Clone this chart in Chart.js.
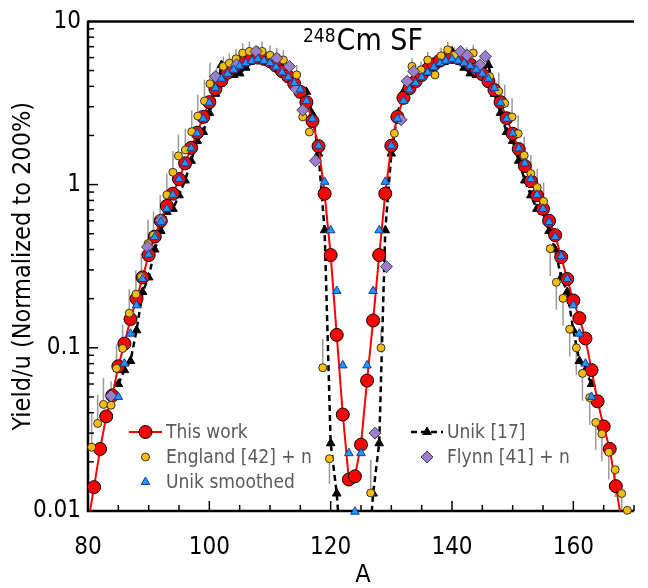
<!DOCTYPE html>
<html>
<head>
<meta charset="utf-8">
<script src="https://cdn.jsdelivr.net/npm/chart.js@4.4.0/dist/chart.umd.min.js"></script>
<style>
  html, body { margin: 0; padding: 0; background: #fff; overflow: hidden; }
  #wrap { width: 656px; height: 588px; }
</style>
</head>
<body>
<div id="wrap"><canvas id="myChart" width="656" height="588"></canvas></div>
<script>
// This work
var thisWorkA = [80, 81, 82, 83, 84, 85, 86, 87, 88, 89, 90, 91, 92, 93, 94, 95, 96, 97, 98, 99,
  100, 101, 102, 103, 104, 105, 106, 107, 108, 109, 110, 111, 112, 113, 114, 115, 116, 117, 118, 119,
  120, 121, 122, 123, 124, 125, 126, 127, 128, 129, 130, 131, 132, 133, 134, 135, 136, 137, 138, 139,
  140, 141, 142, 143, 144, 145, 146, 147, 148, 149, 150, 151, 152, 153, 154, 155, 156, 157, 158, 159,
  160, 161, 162, 163, 164, 165, 166, 167, 168];
var thisWorkY = [0.0085, 0.014, 0.024, 0.038, 0.051, 0.077, 0.106, 0.15, 0.20, 0.27, 0.37, 0.48, 0.60, 0.74, 0.88, 1.08, 1.35, 1.68, 2.08, 2.6,
  3.2, 3.85, 4.35, 4.85, 5.2, 5.5, 5.75, 5.95, 6.0, 5.9, 5.7, 5.35, 4.95, 4.6, 4.15, 3.7, 3.2, 2.45, 1.72, 0.88,
  0.37, 0.12, 0.039, 0.0156, 0.0163, 0.0255, 0.063, 0.147, 0.37, 0.88, 1.73, 2.6, 3.4, 3.9, 4.3, 4.7, 5.1, 5.45, 5.75, 5.95,
  6.05, 5.95, 5.75, 5.45, 5.1, 4.75, 4.3, 3.8, 3.2, 2.55, 2.05, 1.65, 1.3, 1.05, 0.86, 0.71, 0.6, 0.49, 0.36, 0.264,
  0.195, 0.152, 0.114, 0.073, 0.047, 0.033, 0.024, 0.0142, 0.0085];

// England [42] + n  (bar = ratio of error bar end to value)
var englandA = [80.6, 81.6, 82.55, 83.8, 84.7, 85.7, 86.8, 87.9, 88.8, 89.9, 90.8, 91.9, 93.0, 94.0, 94.9, 96.05, 97.1, 98.1, 99.2, 100.1,
  101.2, 102.3, 103.3, 104.4, 105.5, 106.6, 108.7, 110.0, 111.1, 112.2, 114.4, 115.4, 116.5, 118.7, 119.8, 126.6, 128.3, 130.5, 131.5, 133.4,
  134.9, 136.0, 137.2, 138.2, 139.3, 140.4, 142.4, 143.5, 146.2, 147.7, 148.7, 149.9, 150.9, 151.9, 153.0, 154.05, 155.1, 156.2, 157.2, 158.3,
  159.4, 160.5, 161.5, 162.7, 163.7, 164.7, 165.85, 166.9, 167.97, 168.9];
var englandY = [0.0246, 0.0344, 0.045, 0.0445, 0.0748, 0.099, 0.163, 0.213, 0.273, 0.435, 0.49, 0.62, 0.865, 1.19, 1.5, 1.63, 2.11, 2.63, 3.25, 4.15,
  4.5, 5.3, 5.55, 5.9, 6.4, 6.55, 6.55, 6.2, 6.0, 5.8, 4.7, 2.6, 2.1, 0.0755, 0.0209, 0.0129, 0.10, 2.06, 2.5, 5.3,
  5.05, 5.8, 4.7, 6.15, 6.7, 6.2, 6.2, 6.4, 4.6, 3.73, 3.15, 2.6, 2.05, 1.51, 1.17, 0.96, 0.79, 0.405, 0.252, 0.201,
  0.130, 0.10, 0.0697, 0.0495, 0.0349, 0.0297, 0.0229, 0.0179, 0.0128, 0.0101];
var englandBar = [1.6, 1.5, 1.45, 1.4, 1.4, 1.4, 1.4, 1.4, 1.4, 1.4, 1.4, 1.4, 1.35, 1.35, 1.35, 1.35, 1.35, 1.35, 1.35, 1.35,
  1.15, 1.15, 1.15, 1.15, 1.15, 1.15, 1.15, 1.15, 1.15, 1.15, 1.15, 1.15, 1.15, 1.5, 0.7, 1.6, 1.3, 1.12, 1.12, 1.12,
  1.12, 1.12, 1.12, 1.12, 1.12, 1.12, 1.12, 1.12, 1.3, 1.3, 1.3, 1.3, 1.3, 1.3, 1.3, 1.3, 1.3, 0.68, 0.68, 0.68,
  0.68, 0.68, 0.68, 0.68, 0.68, 0.68, 0.68, 0.68, 0.68, 0.68];

// Unik smoothed
var unikSmA = [85, 86, 87, 88, 89, 90, 91, 92, 93, 94, 95, 96, 97, 98, 99, 100, 101, 102, 103, 104,
  105, 106, 107, 108, 109, 110, 111, 112, 113, 114, 115, 116, 117, 118, 119, 120, 121, 122, 123, 124,
  125, 126, 127, 128, 129, 130, 131, 132, 133, 134, 135, 136, 137, 138, 139, 140, 141, 142, 143, 144,
  145, 146, 147, 148, 149, 150, 151, 152, 153, 154, 155, 156, 157, 158, 159, 160, 161, 162, 163];
var unikSmY = [0.05, 0.080, 0.122, 0.182, 0.264, 0.373, 0.477, 0.59, 0.71, 0.865, 1.08, 1.35, 1.67, 2.06, 2.53, 3.17, 3.91, 4.45, 4.78, 5.05,
  5.34, 5.55, 5.73, 5.87, 5.73, 5.55, 5.23, 4.87, 4.54, 4.19, 3.82, 3.25, 2.53, 1.73, 1.04, 0.525, 0.223, 0.078, 0.0226, 0.0099,
  0.0226, 0.078, 0.223, 0.525, 1.04, 1.73, 2.53, 3.25, 3.82, 4.19, 4.54, 4.87, 5.23, 5.55, 5.73, 5.87, 5.73, 5.55, 5.34, 5.05,
  4.78, 4.45, 3.91, 3.17, 2.53, 2.06, 1.67, 1.35, 1.08, 0.865, 0.71, 0.59, 0.477, 0.365, 0.264, 0.182, 0.122, 0.080, 0.05];

// Unik [17]
var unik17A = [85, 86, 87, 88, 89, 90, 91, 92, 93, 94, 95, 96, 97, 98, 99, 100, 101, 102, 103, 104,
  105, 106, 107, 108, 109, 110, 111, 112, 113, 114, 115, 116, 117, 118, 119, 120, 121, 122,
  126, 127, 128, 129, 130, 131, 132, 133, 134, 135, 136, 137, 138, 139, 140, 141, 142, 143, 144,
  145, 146, 147, 148, 149, 150, 151, 152, 153, 154, 155, 156, 157, 158, 159, 160, 161, 162, 163];
var unik17Y = [0.060, 0.073, 0.083, 0.128, 0.22, 0.27, 0.40, 0.52, 0.68, 0.71, 0.86, 1.06, 1.4, 1.85, 2.1, 2.75, 3.6, 5.4, 5.0, 4.7,
  4.8, 5.2, 5.8, 6.55, 6.0, 5.8, 5.5, 5.2, 4.9, 4.5, 3.8, 3.7, 2.7, 1.55, 0.525, 0.026, 0.0128, 0.004,
  0.004, 0.0128, 0.026, 0.525, 1.55, 2.7, 3.7, 3.8, 4.5, 4.9, 5.2, 5.5, 5.8, 6.0, 6.55, 5.8, 5.2, 4.8, 4.7,
  5.0, 5.4, 3.6, 2.75, 2.1, 1.85, 1.4, 1.06, 0.86, 0.71, 0.68, 0.52, 0.40, 0.27, 0.22, 0.128, 0.083, 0.073, 0.060];

// Flynn [41] + n
var flynnA = [83.8, 89.8, 92.0, 101.0, 104.5, 107.7, 111.1, 113.2, 114.3, 115.4, 117.5, 127.3, 129.2, 131.6, 132.6, 133.7, 141.4, 142.5, 144.6, 145.5];
var flynnY = [0.0507, 0.415, 0.604, 4.6, 5.42, 6.55, 5.95, 5.3, 3.86, 2.86, 1.4, 0.030, 0.314, 2.5, 4.3, 4.94, 6.55, 6.2, 5.42, 6.1];

var xMin = 80, xMax = 170, yMin = 0.01, yMax = 10;
var FONT = "'DejaVu Sans Condensed', 'DejaVu Sans', sans-serif";

function pts(xs, ys) {
  return xs.map(function (x, i) { return { x: x, y: ys[i] }; });
}

Chart.defaults.font.family = FONT;

function line(ctx, x1, y1, x2, y2) {
  ctx.beginPath(); ctx.moveTo(x1, y1); ctx.lineTo(x2, y2); ctx.stroke();
}

// frame, inward ticks and error bars (under the markers)
var framePlugin = {
  id: 'frame',
  beforeDatasetsDraw: function (chart) {
    var ctx = chart.ctx, a = chart.chartArea;
    var xs = chart.scales.x, ys = chart.scales.y;
    ctx.save();
    // error bars
    ctx.beginPath();
    ctx.rect(a.left, a.top, a.right - a.left, a.bottom - a.top);
    ctx.clip();
    ctx.strokeStyle = '#9a9a9a';
    ctx.lineWidth = 1.5;
    for (var i = 0; i < englandA.length; i++) {
      var px = xs.getPixelForValue(englandA[i]);
      line(ctx, px, ys.getPixelForValue(englandY[i]), px, ys.getPixelForValue(englandY[i] * englandBar[i]));
    }
    ctx.restore();

    ctx.save();
    ctx.strokeStyle = '#000';
    ctx.lineWidth = 1.5;
    for (var v = xMin; v <= xMax; v += 5) {
      var x = xs.getPixelForValue(v);
      line(ctx, x, a.bottom, x, a.bottom - (v % 20 === 0 ? 10 : 6));
    }
    for (var d = -2; d <= 0; d++) {
      for (var m = 1; m <= 9; m++) {
        var y = ys.getPixelForValue(m * Math.pow(10, d));
        line(ctx, a.left, y, a.left + (m === 1 ? 10 : 6), y);
      }
    }
    ctx.lineWidth = 2.5;
    line(ctx, a.left, a.top, a.right, a.top);
    line(ctx, a.left, a.top - 1, a.left, a.bottom + 1);
    line(ctx, a.left - 1, a.bottom, a.right, a.bottom);
    ctx.restore();
  },
  afterDatasetsDraw: function (chart) {
    var ctx = chart.ctx, a = chart.chartArea;
    var sets = chart.data.datasets;
    ctx.save();

    // title
    ctx.fillStyle = '#000';
    ctx.textBaseline = 'alphabetic';
    ctx.textAlign = 'left';
    ctx.font = '19px ' + FONT;
    ctx.fillText('248', 303, 42);
    var w = ctx.measureText('248').width;
    ctx.font = '30px ' + FONT;
    ctx.fillText('Cm SF', 303 + w + 1, 50);

    // axis titles
    ctx.textAlign = 'center';
    ctx.textBaseline = 'middle';
    ctx.font = '25px ' + FONT;
    ctx.fillText('A', 363, 575);
    ctx.save();
    ctx.translate(23, (a.top + a.bottom) / 2);
    ctx.rotate(-Math.PI / 2);
    ctx.fillText('Yield/u (Normalized to 200%)', 0, 0);
    ctx.restore();

    // legend
    var items = [
      { ds: 0, x: 129, y: 432, len: 33 },
      { ds: 1, x: 129, y: 457, len: 33 },
      { ds: 2, x: 129, y: 482, len: 33 },
      { ds: 3, x: 411, y: 432, len: 32 },
      { ds: 4, x: 411, y: 457, len: 32 }
    ];
    items.forEach(function (it) {
      var s = sets[it.ds];
      var cx = it.x + it.len / 2;
      if (s.showLine) {
        ctx.save();
        ctx.strokeStyle = s.borderColor;
        ctx.lineWidth = s.borderWidth;
        ctx.setLineDash(s.borderDash || []);
        line(ctx, it.x, it.y, it.x + it.len, it.y);
        ctx.restore();
      }
      ctx.fillStyle = s.pointBackgroundColor;
      ctx.strokeStyle = s.pointBorderColor;
      ctx.lineWidth = s.pointBorderWidth;
      Chart.helpers.drawPoint(ctx, {
        pointStyle: s.pointStyle || 'circle', radius: s.pointRadius, rotation: 0, borderWidth: s.pointBorderWidth
      }, cx, it.y);
      ctx.fillStyle = '#5a5a5a';
      ctx.textAlign = 'left';
      ctx.textBaseline = 'middle';
      ctx.font = '19px ' + FONT;
      ctx.fillText(s.label, it.x + it.len + 4, it.y + 1);
    });
    ctx.restore();
  }
};

var ctx = document.getElementById('myChart');
var myChart = new Chart(ctx, {
  type: 'scatter',
  data: {
    datasets: [
      {
        label: 'This work', data: pts(thisWorkA, thisWorkY), showLine: true,
        borderColor: '#ff0000', borderWidth: 2, pointRadius: 6.5,
        pointBackgroundColor: '#ff0000', pointBorderColor: '#000', pointBorderWidth: 1, order: 3
      },
      {
        label: 'England [42] + n', data: pts(englandA, englandY), showLine: false,
        pointRadius: 4, pointBackgroundColor: '#fbbd08', pointBorderColor: '#333', pointBorderWidth: 1,
        order: 2, clip: 8
      },
      {
        label: 'Unik smoothed', data: pts(unikSmA, unikSmY), showLine: false,
        pointStyle: 'triangle', pointRadius: 5, pointBackgroundColor: '#2196f3', pointBorderColor: '#0d3fa8',
        pointBorderWidth: 1, order: 0, clip: 8
      },
      {
        label: 'Unik [17]', data: pts(unik17A, unik17Y), showLine: true,
        borderColor: '#000', borderWidth: 2.5, borderDash: [6, 4],
        pointStyle: 'triangle', pointRadius: 5, pointBackgroundColor: '#000', pointBorderColor: '#000',
        pointBorderWidth: 1, order: 4
      },
      {
        label: 'Flynn [41] + n', data: pts(flynnA, flynnY), showLine: false,
        pointStyle: 'rectRot', pointRadius: 6, pointBackgroundColor: '#9b7fce', pointBorderColor: '#3c3c3c',
        pointBorderWidth: 1, order: 1, clip: 8
      }
    ]
  },
  options: {
    responsive: false,
    animation: false,
    events: [],
    layout: { padding: { left: 0, right: 3, top: 18, bottom: 0 } },
    elements: { line: { tension: 0 } },
    plugins: { legend: { display: false }, tooltip: { enabled: false } },
    scales: {
      x: {
        type: 'linear', min: xMin, max: xMax,
        afterFit: function (s) { s.height = 77; },
        grid: { display: false, drawTicks: false },
        border: { display: false },
        ticks: {
          stepSize: 20, autoSkip: false, maxRotation: 0, padding: 22, color: '#000',
          font: { size: 24 },
          callback: function (v) { return v % 20 === 0 ? String(v) : ''; }
        }
      },
      y: {
        type: 'logarithmic', min: yMin, max: yMax,
        afterFit: function (s) { s.width = 88; },
        grid: { display: false, drawTicks: false },
        border: { display: false },
        ticks: {
          autoSkip: false, padding: 7, color: '#000', font: { size: 24 },
          callback: function (v) {
            var l = Math.log10(v);
            return Math.abs(l - Math.round(l)) < 1e-6 ? String(Number(v.toPrecision(3))) : '';
          }
        }
      }
    }
  },
  plugins: [framePlugin]
});
</script>
</body>
</html>
